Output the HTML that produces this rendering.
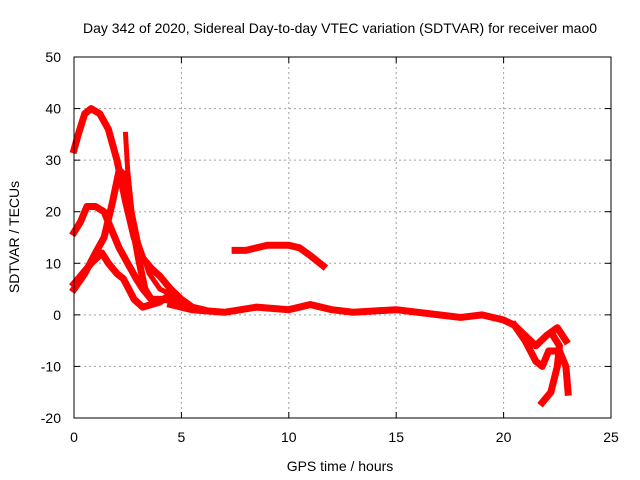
<!DOCTYPE html>
<html><head><meta charset="utf-8"><style>
body{margin:0;background:#fff}
svg{display:block;font-family:"Liberation Sans",sans-serif}
</style></head><body>
<svg id="c" width="640" height="480">
<rect x="0" y="0" width="640" height="480" fill="#fff"/>
<text x="340" y="33" font-size="14" text-anchor="middle">Day 342 of 2020, Sidereal Day-to-day VTEC variation (SDTVAR) for receiver mao0</text>
<g id="grid"></g><g id="series"></g><g id="axes"></g>
<text x="340" y="471" font-size="14" text-anchor="middle">GPS time / hours</text>
<text transform="translate(19,237) rotate(-90)" font-size="14" text-anchor="middle">SDTVAR / TECUs</text>
</svg>
<script>
const xTicks=[0,5,10,15,20,25];
const yTicks=[-20,-10,0,10,20,30,40,50];
const trackA=[[0,32],[0.2,35],[0.5,39],[0.8,40],[1.2,39],[1.6,36],[2,30],[2.4,22],[2.8,15],[3.2,11],[3.6,9],[4,7.5],[4.5,5],[5,3],[5.5,1.5],[6,1]];
const trackB=[[0,16],[0.3,18],[0.6,21],[1,21],[1.4,20],[1.8,16],[2.1,13],[2.5,10],[2.9,7],[3.2,5],[3.6,3],[4,3],[4.5,3],[5,2]];
const trackC=[[0,5],[0.5,8],[1,12],[1.4,15],[1.8,22],[2.1,28],[2.4,27],[2.7,18],[3,11],[3.3,5],[3.6,3],[4.3,3],[5,2]];
const trackD=[[0,6],[0.4,8],[0.8,10],[1.3,12],[1.6,10],[2,8],[2.3,7],[2.8,3],[3.2,1.5],[4,2.5],[4.5,4],[5,2]];
const trackE=[[2.4,35],[2.5,28],[2.7,20],[3,14],[3.5,8],[4,5],[4.5,4]];
const trackMid=[[7.5,12.5],[8,12.5],[9,13.5],[10,13.5],[10.5,13],[11,11.5],[11.6,9.5]];
const trackFlat=[[4.5,2],[5.5,1],[7,0.5],[8.5,1.5],[10,1],[11,2],[12,1],[13,0.5],[15,1],[17,0],[18,-0.5],[19,0],[20,-1],[20.5,-2],[21,-4],[21.5,-6],[22,-4],[22.5,-2.5],[22.9,-5]];
const trackF=[[20.5,-2],[21,-5],[21.5,-9],[21.8,-10],[22.1,-7],[22.6,-7],[22.9,-10],[23,-15]];
const trackG=[[21.8,-17],[22.2,-15],[22.5,-10],[22.6,-6],[22.3,-4]];
const tracks=[trackA,trackB,trackC,trackD,trackE,trackMid,trackFlat,trackF,trackG];
const X0=74,X1=611,Y0=418,Y1=57;
const sx=v=>X0+(v-0)/(25-0)*(X1-X0);
const sy=v=>Y0-(v+20)/70*(Y0-Y1);
const NS="http://www.w3.org/2000/svg";
function mk(t,a,p){const e=document.createElementNS(NS,t);for(const k in a)e.setAttribute(k,a[k]);p.appendChild(e);return e;}
const grid=document.getElementById('grid'),axes=document.getElementById('axes'),ser=document.getElementById('series');
xTicks.forEach(t=>{
 if(t>0&&t<25){const g=mk('line',{x1:sx(t),x2:sx(t),y1:Y1,y2:Y0,stroke:'#a0a0a0','stroke-dasharray':'2,3'},grid);
 
 }
 mk('line',{x1:sx(t),x2:sx(t),y1:Y0,y2:Y0-6,stroke:'#000'},axes);
 mk('line',{x1:sx(t),x2:sx(t),y1:Y1,y2:Y1+6,stroke:'#000'},axes);
 const l=mk('text',{x:sx(t),y:Y0+24,'font-size':14,'text-anchor':'middle'},axes);l.textContent=t;
 
 
});
yTicks.forEach(t=>{
 if(t>-20&&t<50){const g=mk('line',{x1:X0,x2:X1,y1:sy(t),y2:sy(t),stroke:'#a0a0a0','stroke-dasharray':'2,3'},grid);
 
 }
 mk('line',{x1:X0,x2:X0+6,y1:sy(t),y2:sy(t),stroke:'#000'},axes);
 mk('line',{x1:X1,x2:X1-6,y1:sy(t),y2:sy(t),stroke:'#000'},axes);
 const l=mk('text',{x:X0-13,y:sy(t)+5,'font-size':14,'text-anchor':'end'},axes);l.textContent=t;
 
 
});
const fr=mk('rect',{x:X0,y:Y1,width:X1-X0,height:Y0-Y1,fill:'none',stroke:'#000'},axes);


tracks.forEach((tr,i)=>{
 const p=mk('polyline',{points:tr.map(d=>sx(d[0])+','+sy(d[1])).join(' '),fill:'none',stroke:'#f00','stroke-width':i==4?5:7,'stroke-linejoin':'round','stroke-linecap':'square'},ser);
 
 
});
</script>
</body></html>
